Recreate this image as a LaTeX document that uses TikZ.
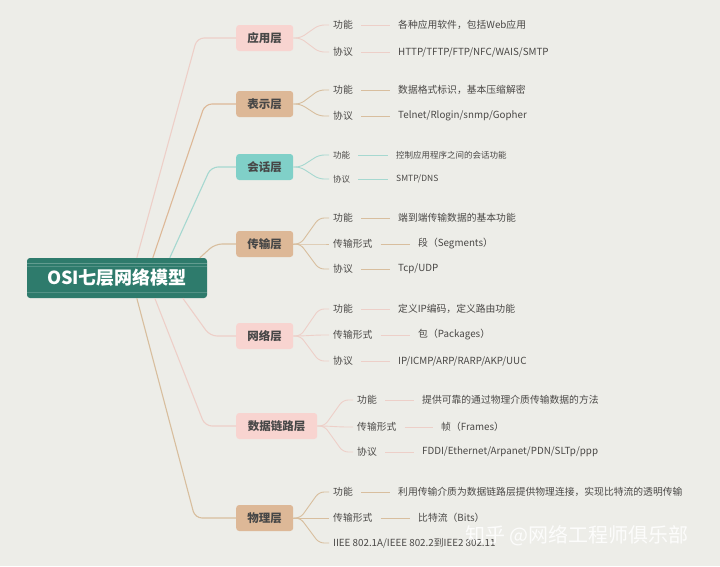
\documentclass[tikz,border=0pt]{standalone}
\usepackage{fontspec}
\setmainfont{Noto Sans CJK SC}
\usepackage{tikz}
\usetikzlibrary{positioning}

\definecolor{bgc}{HTML}{EDEDE8}
\definecolor{rootc}{HTML}{2E7B6C}
\definecolor{pinkc}{HTML}{F8D4D0}
\definecolor{tanc}{HTML}{DDB897}
\definecolor{tealc}{HTML}{80D0C8}
\definecolor{pinkl}{HTML}{EDCFC8}
\definecolor{tanl}{HTML}{D8BE9E}
\definecolor{teall}{HTML}{A6D8D0}
\definecolor{txtc}{HTML}{4A4846}

\tikzset{
  layer/.style={rounded corners=3pt, minimum height=26pt, minimum width=57pt,
    anchor=west, inner sep=0pt, text=black!72,
    font=\fontsize{11.5}{12}\selectfont\bfseries},
  lbl/.style={anchor=west, inner sep=0pt, text=txtc,
    font=\fontsize{9.8}{11}\selectfont},
  rootline/.style={line width=1.1pt, rounded corners=7pt},
  subline/.style={line width=0.9pt, rounded corners=5pt},
  valline/.style={line width=0.9pt, shorten <=8pt, shorten >=8pt}
}

\begin{document}
\begin{tikzpicture}[x=1pt, y=-1pt]
  \fill[bgc] (0,0) rectangle (720,566);
  \useasboundingbox (0,0) rectangle (720,566);

  % root
  \node[fill=rootc, rounded corners=3pt, minimum width=180pt, minimum height=40pt,
    inner sep=0pt, text=white, font=\fontsize{18}{20}\selectfont\bfseries]
    (root) at (117,278) {OSI七层网络模型};
  \draw[white, opacity=0.25, line width=0.6pt] ([yshift=-5pt]root.north west) -- ([yshift=-5pt]root.north east);
  \draw[white, opacity=0.18, line width=0.6pt] ([yshift=-8pt]root.north west) -- ([yshift=-8pt]root.north east);
  \draw[white, opacity=0.18, line width=0.6pt] ([yshift=6pt]root.south west) -- ([yshift=6pt]root.south east);

  % layers
  \node[layer, fill=pinkc] (app)   at (236,38)  {应用层};
  \node[layer, fill=tanc]  (pres)  at (236,104) {表示层};
  \node[layer, fill=tealc] (sess)  at (236,167) {会话层};
  \node[layer, fill=tanc]  (trans) at (236,244) {传输层};
  \node[layer, fill=pinkc] (net)   at (236,336) {网络层};
  \node[layer, fill=pinkc, minimum width=81pt] (link) at (236,426) {数据链路层};
  \node[layer, fill=tanc]  (phys)  at (236,518) {物理层};

  \draw[rootline, pinkl] ([xshift=110pt]root.north west) -- ([xshift=-39pt]app.west) -- (app.west);
  \draw[rootline, tanc]  ([xshift=126pt]root.north west) -- ([xshift=-31pt]pres.west) -- (pres.west);
  \draw[rootline, teall] ([xshift=143pt]root.north west) -- ([xshift=-25pt]sess.west) -- (sess.west);
  \draw[rootline, tanl]  ([xshift=173pt]root.north west) -- ([xshift=-21pt]trans.west) -- (trans.west);
  \draw[rootline, pinkl] ([xshift=156pt]root.south west) -- ([xshift=-26pt]net.west) -- (net.west);
  \draw[rootline, pinkl] ([xshift=128pt]root.south west) -- ([xshift=-31pt]link.west) -- (link.west);
  \draw[rootline, tanl]  ([xshift=110pt]root.south west) -- ([xshift=-41pt]phys.west) -- (phys.west);

  % 应用层
  \node[lbl] (appF) at (333,25) {功能};
  \node[lbl] (appP) at (333,52) {协议};
  \node[lbl] (appFv) at (398,25) {各种应用软件，包括Web应用};
  \node[lbl] (appPv) at (398,52) {HTTP/TFTP/FTP/NFC/WAIS/SMTP};
  \foreach \n in {appF,appP}
    \draw[subline, pinkl] (app.east) -- ++(7,0) -- ([xshift=-14pt]\n.west) -- ([xshift=-4pt]\n.west);
  \draw[valline, pinkl] (appF) -- (appFv);
  \draw[valline, pinkl] (appP) -- (appPv);

  % 表示层
  \node[lbl] (presF) at (333,90)  {功能};
  \node[lbl] (presP) at (333,116) {协议};
  \node[lbl] (presFv) at (398,90)  {数据格式标识，基本压缩解密};
  \node[lbl] (presPv) at (398,116) {Telnet/Rlogin/snmp/Gopher};
  \foreach \n in {presF,presP}
    \draw[subline, tanl] (pres.east) -- ++(7,0) -- ([xshift=-14pt]\n.west) -- ([xshift=-4pt]\n.west);
  \draw[valline, tanl] (presF) -- (presFv);
  \draw[valline, tanl] (presP) -- (presPv);

  % 会话层
  \node[lbl, font=\fontsize{8.5}{10}\selectfont] (sessF) at (333,155) {功能};
  \node[lbl, font=\fontsize{8.5}{10}\selectfont] (sessP) at (333,179) {协议};
  \node[lbl, font=\fontsize{8.5}{10}\selectfont] (sessFv) at (396,155) {控制应用程序之间的会话功能};
  \node[lbl, font=\fontsize{8.5}{10}\selectfont] (sessPv) at (396,179) {SMTP/DNS};
  \foreach \n in {sessF,sessP}
    \draw[subline, teall] (sess.east) -- ++(7,0) -- ([xshift=-14pt]\n.west) -- ([xshift=-4pt]\n.west);
  \draw[valline, teall] (sessF) -- (sessFv);
  \draw[valline, teall] (sessP) -- (sessPv);

  % 传输层
  \node[lbl] (transF) at (333,218) {功能};
  \node[lbl] (transT) at (333,244) {传输形式};
  \node[lbl] (transP) at (333,269) {协议};
  \node[lbl] (transFv) at (398,218) {端到端传输数据的基本功能};
  \node[lbl] (transTv) at (418,244) {段（Segments）};
  \node[lbl] (transPv) at (398,269) {Tcp/UDP};
  \foreach \n in {transF,transT,transP}
    \draw[subline, tanl] (trans.east) -- ++(7,0) -- ([xshift=-14pt]\n.west) -- ([xshift=-4pt]\n.west);
  \draw[valline, tanl] (transF) -- (transFv);
  \draw[valline, tanl] (transT) -- (transTv);
  \draw[valline, tanl] (transP) -- (transPv);

  % 网络层
  \node[lbl] (netF) at (333,309) {功能};
  \node[lbl] (netT) at (333,335) {传输形式};
  \node[lbl] (netP) at (333,361) {协议};
  \node[lbl] (netFv) at (398,309) {定义IP编码，定义路由功能};
  \node[lbl] (netTv) at (418,335) {包（Packages）};
  \node[lbl] (netPv) at (398,361) {IP/ICMP/ARP/RARP/AKP/UUC};
  \foreach \n in {netF,netT,netP}
    \draw[subline, pinkl] (net.east) -- ++(7,0) -- ([xshift=-14pt]\n.west) -- ([xshift=-4pt]\n.west);
  \draw[valline, pinkl] (netF) -- (netFv);
  \draw[valline, pinkl] (netT) -- (netTv);
  \draw[valline, pinkl] (netP) -- (netPv);

  % 数据链路层
  \node[lbl] (linkF) at (357,400) {功能};
  \node[lbl] (linkT) at (357,427) {传输形式};
  \node[lbl] (linkP) at (357,452) {协议};
  \node[lbl] (linkFv) at (422,400) {提供可靠的通过物理介质传输数据的方法};
  \node[lbl] (linkTv) at (441,427) {帧（Frames）};
  \node[lbl] (linkPv) at (422,452) {FDDI/Ethernet/Arpanet/PDN/SLTp/ppp};
  \foreach \n in {linkF,linkT,linkP}
    \draw[subline, pinkl] (link.east) -- ++(7,0) -- ([xshift=-14pt]\n.west) -- ([xshift=-4pt]\n.west);
  \draw[valline, pinkl] (linkF) -- (linkFv);
  \draw[valline, pinkl] (linkT) -- (linkTv);
  \draw[valline, pinkl] (linkP) -- (linkPv);

  % 物理层
  \node[lbl] (physF) at (333,492) {功能};
  \node[lbl] (physT) at (333,518) {传输形式};
  \node[lbl] (physS) at (333,543) {IIEE 802.1A/IEEE 802.2到IEE2 802.11};
  \node[lbl] (physFv) at (398,492) {利用传输介质为数据链路层提供物理连接，实现比特流的透明传输};
  \node[lbl] (physTv) at (418,518) {比特流（Bits）};
  \foreach \n in {physF,physT,physS}
    \draw[subline, tanl] (phys.east) -- ++(7,0) -- ([xshift=-14pt]\n.west) -- ([xshift=-4pt]\n.west);
  \draw[valline, tanl] (physF) -- (physFv);
  \draw[valline, tanl] (physT) -- (physTv);

  % watermark
  \node[anchor=west, inner sep=0pt, text=white, opacity=0.85,
    font=\fontsize{20}{22}\selectfont] (mark) at (465,536) {知乎 @网络工程师俱乐部};
\end{tikzpicture}
\end{document}
